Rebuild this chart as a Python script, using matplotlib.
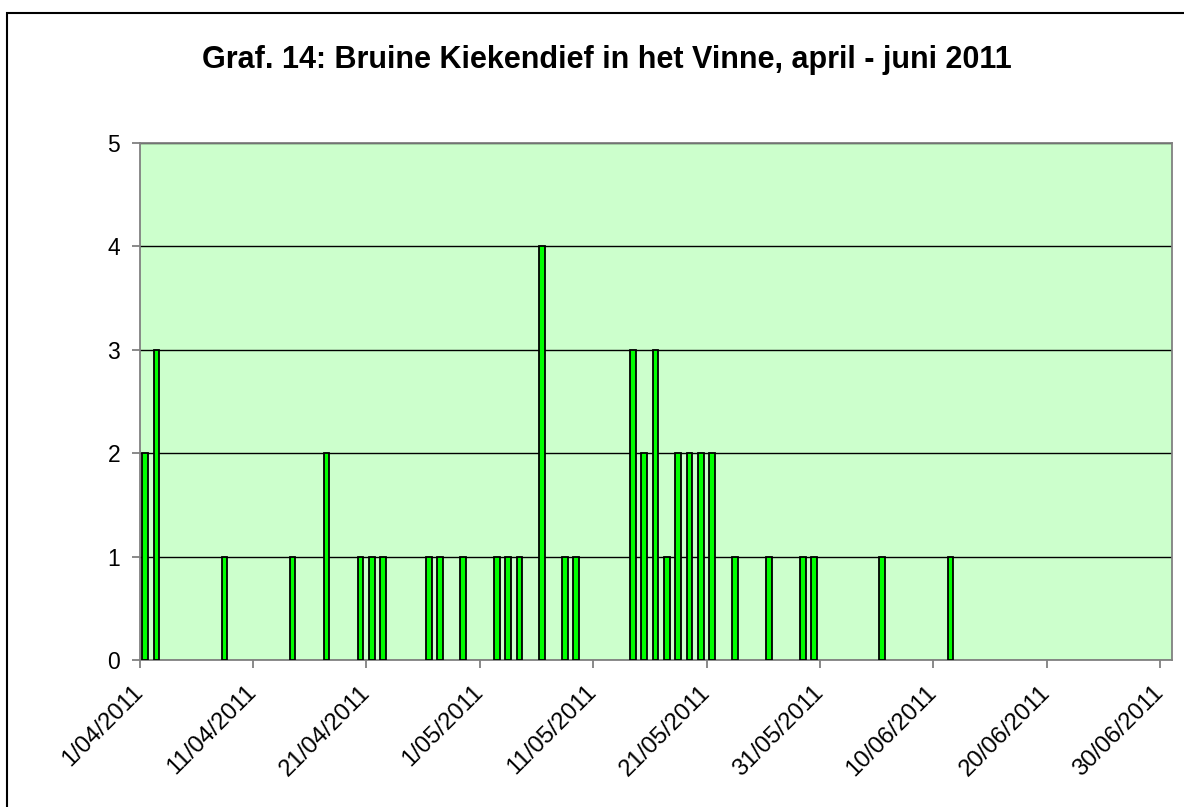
import matplotlib
matplotlib.use("Agg")
import matplotlib.pyplot as plt
import matplotlib.dates as mdates
import matplotlib.transforms as mtransforms
import pandas as pd
from matplotlib.patches import Rectangle

plt.rcParams['font.family'] = ['Liberation Sans', 'DejaVu Sans']

# observations per day
obs_dates = ["2011-04-01", "2011-04-02", "2011-04-08", "2011-04-14", "2011-04-17",
             "2011-04-20", "2011-04-21", "2011-04-22", "2011-04-26", "2011-04-27",
             "2011-04-29", "2011-05-02", "2011-05-03", "2011-05-04", "2011-05-06",
             "2011-05-08", "2011-05-09", "2011-05-14", "2011-05-15", "2011-05-16",
             "2011-05-17", "2011-05-18", "2011-05-19", "2011-05-20", "2011-05-21",
             "2011-05-23", "2011-05-26", "2011-05-29", "2011-05-30", "2011-06-05",
             "2011-06-11"]
counts = [2, 3, 1, 1, 2, 1, 1, 1, 1, 1, 1, 1, 1, 1, 4, 1, 1, 3, 2, 3, 1, 2, 2, 2, 2,
          1, 1, 1, 1, 1, 1]

tick_dates = ["2011-04-01", "2011-04-11", "2011-04-21", "2011-05-01", "2011-05-11",
              "2011-05-21", "2011-05-31", "2011-06-10", "2011-06-20", "2011-06-30"]
tick_labels = ["1/04/2011", "11/04/2011", "21/04/2011", "1/05/2011", "11/05/2011",
               "21/05/2011", "31/05/2011", "10/06/2011", "20/06/2011", "30/06/2011"]
y_ticks = [0, 1, 2, 3, 4, 5]

title = "Graf. 14: Bruine Kiekendief in het Vinne, april - juni 2011"

W, H = 1184, 807
fig = plt.figure(figsize=(W / 100, H / 100), dpi=100)
fig.patch.set_facecolor("white")

# outer chart border (runs off the right and bottom edges)
fig.patches.append(Rectangle((7 / W, -0.05), 1.1, 1 - 13 / H + 0.05, transform=fig.transFigure,
                             fill=False, edgecolor="black", linewidth=1.5))

ax = fig.add_axes([139.5 / W, (H - 660) / H, (1171.5 - 139.5) / W, (660 - 142.7) / H])
ax.set_facecolor("#CCFFCC")

x = mdates.date2num(pd.to_datetime(obs_dates)) + 0.5
ax.bar(x, counts, width=0.5, color="#00FF00", edgecolor="black", linewidth=1.3, zorder=3)

ax.set_xlim(mdates.date2num(pd.Timestamp("2011-04-01")), mdates.date2num(pd.Timestamp("2011-07-01")))
ax.set_ylim(0, 5)
ax.set_yticks(y_ticks)
ax.set_yticklabels([str(v) for v in y_ticks], fontsize=16.5)
ax.yaxis.grid(True, color="black", linewidth=1.0, zorder=1)
ax.set_axisbelow(True)

ax.set_xticks(mdates.date2num(pd.to_datetime(tick_dates)))
ax.set_xticklabels(tick_labels, fontsize=17.2, rotation=45, ha="right", va="center",
                   rotation_mode="anchor")
# nudge the slanted labels a little left/down like the original
shift = mtransforms.ScaledTranslation(-5 / 100, -4 / 100, fig.dpi_scale_trans)
for lbl in ax.get_xticklabels():
    lbl.set_transform(lbl.get_transform() + shift)

ax.tick_params(axis="x", direction="out", length=6, width=1.3, color="#808080", pad=15)
ax.tick_params(axis="y", direction="out", length=6, width=1.3, color="#808080", pad=8)
for s in ax.spines.values():
    s.set_color("#808080")
    s.set_linewidth(1.3)

fig.text(607 / W, 1 - 60 / H, title, ha="center", va="center", fontsize=22, fontweight="bold")

fig.savefig("out.png", dpi=100)
